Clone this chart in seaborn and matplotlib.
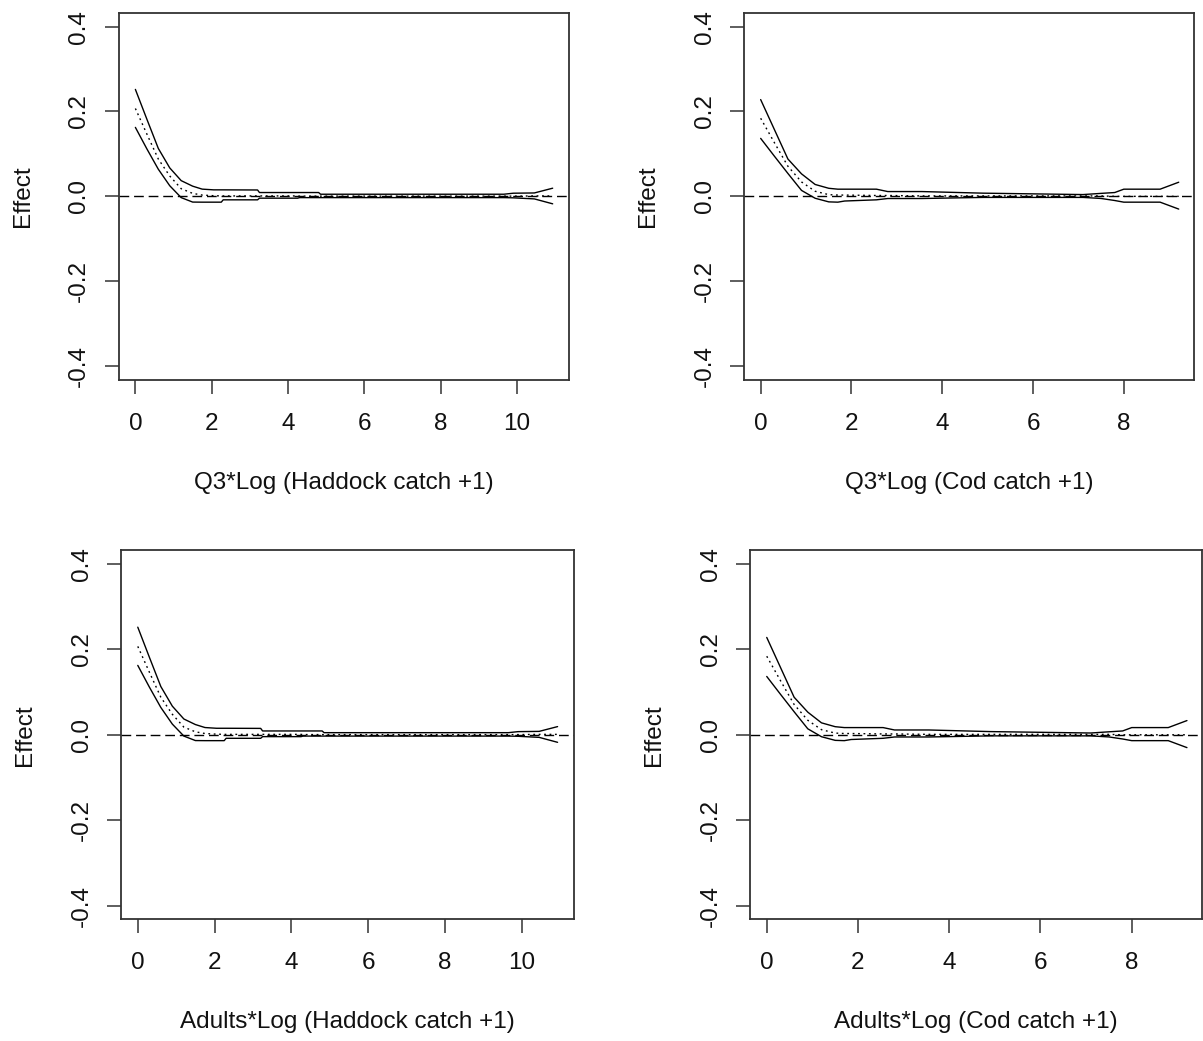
import numpy as np
import pandas as pd
import matplotlib
matplotlib.use("Agg")
import matplotlib.pyplot as plt
import seaborn as sns

# Haddock term: covariate grid, upper band, fitted effect, lower band
haddock_x = [0.0, 0.3, 0.6, 0.9, 1.2, 1.5, 1.75, 2.05, 2.25, 2.3, 3.2, 3.25,
             4.25, 4.3, 4.8, 4.85, 9.65, 9.9, 10.45, 10.93]
haddock_upper = [0.252, 0.182, 0.113, 0.067, 0.037, 0.024, 0.017, 0.0153, 0.0153,
                 0.0153, 0.0150, 0.0090, 0.0090, 0.0090, 0.0090, 0.0050, 0.0050,
                 0.0074, 0.0080, 0.0192]
haddock_fit = [0.207, 0.147, 0.088, 0.048, 0.018, 0.007, 0.003, 0.0015, 0.001,
               0.001, 0.001, 0.001, 0.001, 0.0005, 0.0005, 0.0005, 0.0005, 0.0005,
               0.001, 0.001]
haddock_lower = [0.1625, 0.112, 0.064, 0.025, -0.003, -0.0135, -0.0137, -0.0137,
                 -0.0137, -0.0082, -0.0082, -0.0043, -0.0043, -0.0030, -0.0030,
                 -0.0030, -0.0030, -0.0035, -0.0060, -0.0176]

# Cod term
cod_x = [0.0, 0.3, 0.6, 0.9, 1.2, 1.5, 1.7, 1.85, 2.55, 2.8, 3.55, 4.9, 7.1,
         7.5, 7.8, 8.0, 8.8, 9.21]
cod_upper = [0.228, 0.158, 0.088, 0.053, 0.028, 0.019, 0.0169, 0.0169, 0.0169,
             0.0113, 0.0113, 0.0075, 0.0042, 0.0070, 0.0090, 0.0169, 0.0169, 0.0333]
cod_fit = [0.184, 0.127, 0.071, 0.034, 0.012, 0.004, 0.003, 0.003, 0.002, 0.002,
           0.001, 0.001, 0.001, 0.001, 0.000, 0.000, 0.000, 0.000]
cod_lower = [0.1366, 0.095, 0.054, 0.014, -0.0045, -0.013, -0.0137, -0.0110,
             -0.0082, -0.0051, -0.0051, -0.0025, -0.0025, -0.0050, -0.0098,
             -0.0137, -0.0137, -0.030]

panel_titles = ["Q3*Log (Haddock catch +1)", "Q3*Log (Cod catch +1)",
                "Adults*Log (Haddock catch +1)", "Adults*Log (Cod catch +1)"]
y_ticks = [-0.4, -0.2, 0.0, 0.2, 0.4]
haddock_ticks = [0, 2, 4, 6, 8, 10]
cod_ticks = [0, 2, 4, 6, 8]

sns.set_style("ticks")
plt.rcParams["font.family"] = ["Liberation Sans", "DejaVu Sans"]

W, H = 1203, 1041
fig = plt.figure(figsize=(W / 100, H / 100), dpi=100)


def px_axes(left, top, right, bottom):
    return fig.add_axes([left / W, 1 - bottom / H, (right - left) / W, (bottom - top) / H])


panels = [
    (px_axes(118.7, 13.0, 568.7, 379.7), haddock_x, haddock_upper, haddock_fit,
     haddock_lower, haddock_ticks, (-0.437, 11.35), panel_titles[0]),
    (px_axes(744.0, 13.0, 1193.7, 379.7), cod_x, cod_upper, cod_fit, cod_lower,
     cod_ticks, (-0.367, 9.54), panel_titles[1]),
    (px_axes(121.0, 550.3, 573.7, 919.3), haddock_x, haddock_upper, haddock_fit,
     haddock_lower, haddock_ticks, (-0.437, 11.35), panel_titles[2]),
    (px_axes(750.0, 550.3, 1202.0, 919.3), cod_x, cod_upper, cod_fit, cod_lower,
     cod_ticks, (-0.367, 9.54), panel_titles[3]),
]

tick_fs = 17.5
for ax, xs, up, fit, lo, xt, xlim, title in panels:
    df = pd.DataFrame({
        "x": list(xs) * 3,
        "effect": list(up) + list(fit) + list(lo),
        "band": ["upper"] * len(xs) + ["fit"] * len(xs) + ["lower"] * len(xs),
    })
    sns.lineplot(data=df, x="x", y="effect", units="band", style="band",
                 dashes={"upper": "", "fit": (1.3, 2.6), "lower": ""},
                 estimator=None, sort=False, color="black", lw=1.0,
                 legend=False, ax=ax)
    ax.axhline(0, color="black", lw=1.0, ls=(0, (7, 3.5)))
    ax.set_xlim(*xlim)
    ax.set_ylim(-0.432, 0.432)
    ax.set_xticks(xt)
    ax.set_yticks(y_ticks)
    ax.set_yticklabels([f"{v:.1f}" for v in y_ticks], rotation=90, va="center")
    ax.tick_params(axis="both", length=9.9, width=1.1, color="#333333",
                   labelsize=tick_fs, labelcolor="#111111", direction="out")
    ax.tick_params(axis="x", pad=14)
    ax.tick_params(axis="y", pad=10.5)
    for s in ax.spines.values():
        s.set_visible(True)
        s.set_color("#333333")
        s.set_linewidth(1.3)
    ax.set_xlabel(title, fontsize=tick_fs, color="#111111", va="center")
    ax.set_ylabel("Effect", fontsize=tick_fs, color="#111111", va="center")
    ax.xaxis.set_label_coords(0.5, -(103.0 / (ax.get_position().height * H)))
    ax.yaxis.set_label_coords(-(95.5 / (ax.get_position().width * W)), 0.5)

fig.savefig("out.png", dpi=100, facecolor="white")
